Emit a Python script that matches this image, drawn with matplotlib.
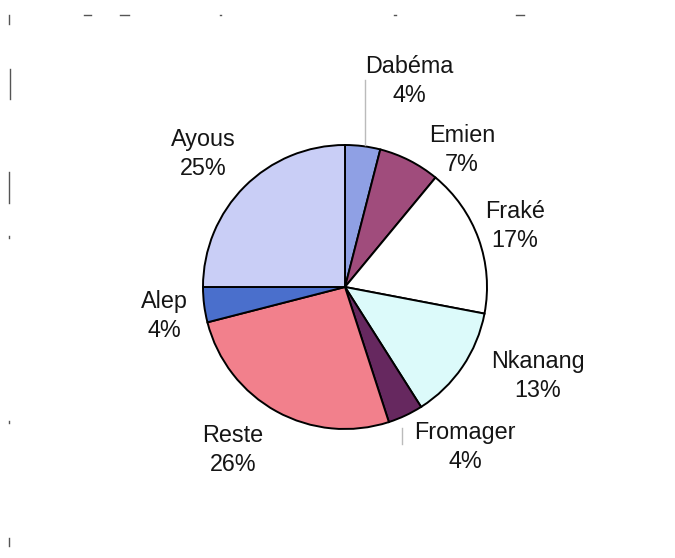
import matplotlib
matplotlib.use('Agg')
import matplotlib.pyplot as plt
from matplotlib.lines import Line2D

# essences et parts du volume
essences = ['Dabéma', 'Emien', 'Fraké', 'Nkanang', 'Fromager', 'Reste', 'Alep', 'Ayous']
parts = [4, 7, 17, 13, 4, 26, 4, 25]
couleurs = ['#8fa0e4', '#a04c7c', '#ffffff', '#dcfafa', '#66285f', '#f2808c', '#4a6fcc', '#c9cef6']

# position des etiquettes (pixels depuis le haut)
etiq_xy = [(409, 81), (462, 150), (515, 226), (538, 376), (465, 447),
           (233, 450), (164, 316), (203, 154)]

W, H = 675, 558
fig = plt.figure(figsize=(6.75, 5.58), dpi=100)
ax = fig.add_axes([0, 0, 1, 1])

cx, cy, r = 345, H - 287, 142
ax.pie(parts, colors=couleurs, startangle=90, counterclock=False,
       center=(cx, cy), radius=r, frame=True,
       wedgeprops=dict(edgecolor='black', linewidth=1.4))
ax.set_xlim(0, W)
ax.set_ylim(0, H)
ax.set_aspect('equal')
ax.axis('off')

for nom, p, (x, y) in zip(essences, parts, etiq_xy):
    ax.text(x, H - y, '%s\n%d%%' % (nom, p), ha='center', va='center',
            fontsize=16.8, family='Liberation Sans', linespacing=1.37,
            color='#151515')

# traits de rappel
ax.plot([365, 365], [H - 80, H - 145], color='#bbbbbb', lw=1)
ax.plot([402, 402], [H - 428, H - 444], color='#bbbbbb', lw=1)

# petites marques de bord de page
marques = [((9, 9), (15, 24)), ((10, 10), (69, 99)), ((9, 9), (172, 203)),
           ((9, 9), (236, 238)), ((9, 9), (421, 423)), ((9, 9), (538, 546)),
           ((84, 91), (15, 15)), ((120, 129), (15, 15)), ((220, 221), (15, 15)),
           ((394, 396), (15, 15)), ((516, 524), (15, 15))]
for xs, ys in marques:
    fig.add_artist(Line2D([xs[0] / W, xs[1] / W], [1 - ys[0] / H, 1 - ys[1] / H],
                          color='#555555', lw=1.0))

plt.savefig('out.png', dpi=100)
